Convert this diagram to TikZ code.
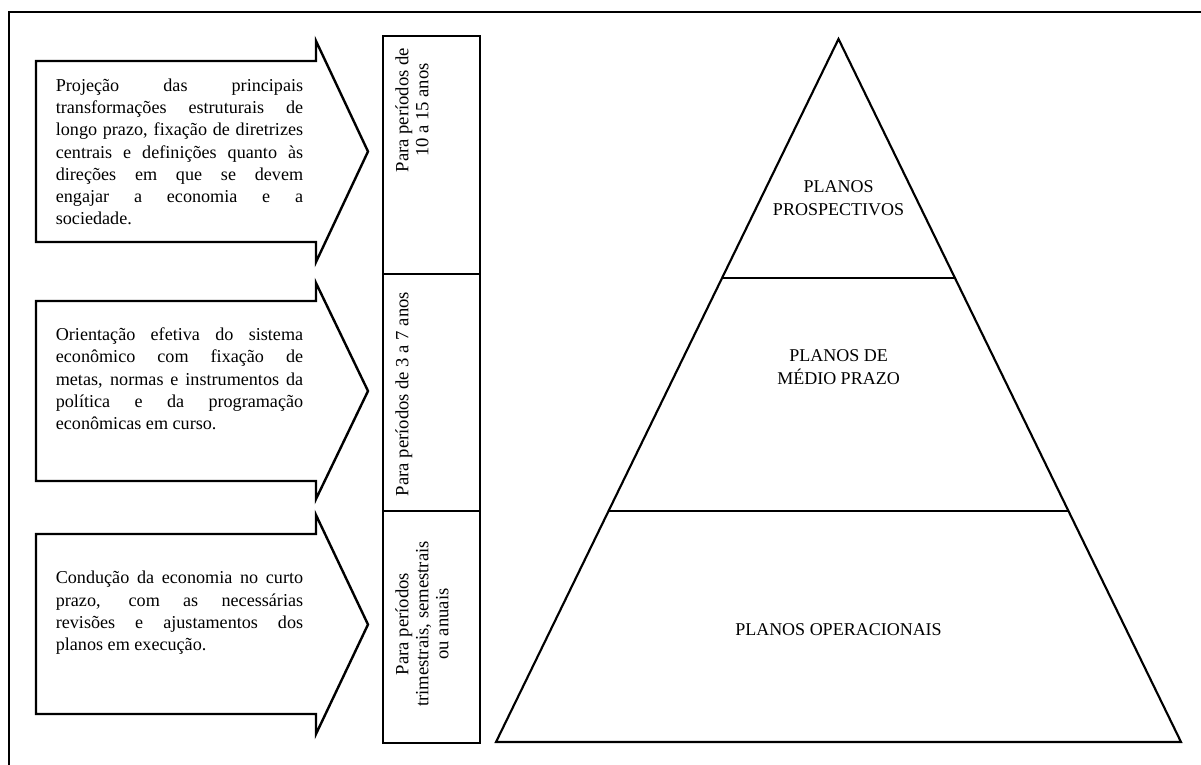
\documentclass[tikz,border=0pt]{standalone}
\usepackage{fontspec}
\setmainfont{Liberation Serif}
\hyphenpenalty=10000
\exhyphenpenalty=10000
\begin{document}
\begin{tikzpicture}[x=0.75pt,y=-0.75pt,
  frameline/.style={line width=1.8pt},
  arrowshape/.style={draw, line width=1.8pt, line join=miter},
  desc/.style={text width=185.5pt, align=justify, inner sep=0pt,
    font=\fontsize{13.6}{16.7}\selectfont},
  period/.style={rotate=90, align=center, inner sep=0pt, anchor=north,
    font=\fontsize{14}{15}\selectfont},
  cell/.style={draw, line width=1.6pt},
  pyr/.style={draw, line width=1.6pt, line join=miter},
  level/.style={align=center, inner sep=0pt,
    font=\fontsize{13.5}{17.2}\selectfont}
]
\clip (0,0) rectangle (1201,764);
\useasboundingbox (0,0) rectangle (1201,764);

% outer frame (cut by the page at right and bottom)
\draw[frameline] (9,800) -- (9,12) -- (1260,12);

% arrows
\draw[arrowshape] (36,61) -- (316,61) -- (316,41) -- (368,151.5) -- (316,262) -- (316,242) -- (36,242) -- cycle;
\draw[arrowshape] (36,301) -- (316,301) -- (316,283) -- (368,391) -- (316,499) -- (316,481) -- (36,481) -- cycle;
\draw[arrowshape] (36,534) -- (316,534) -- (316,515) -- (368,624.5) -- (316,734) -- (316,714) -- (36,714) -- cycle;

\node[desc] (t1) at (179.5,152) {Projeção das principais\linebreak
transformações estruturais de\linebreak
longo prazo, fixação de diretrizes\linebreak
centrais e definições quanto às\linebreak
direções em que se devem\linebreak
engajar a economia e a\linebreak
sociedade.};
\node[desc] (t2) at (179.5,379) {Orientação efetiva do sistema\linebreak
econômico com fixação de\linebreak
metas, normas e instrumentos da\linebreak
política e da programação\linebreak
econômicas em curso.};
\node[desc] (t3) at (179.5,613) {Condução da economia no curto\linebreak
prazo, com as necessárias\linebreak
revisões e ajustamentos dos\linebreak
planos em execução.};

% period column
\draw[cell] (383,36) rectangle (480,274);
\draw[cell] (383,274) rectangle (480,511);
\draw[cell] (383,511) rectangle (480,743);
\node[period] (p1) at (395,110) {Para períodos de\\10 a 15 anos};
\node[period] (p2) at (395,394) {Para períodos de 3 a 7 anos};
\node[period] (p3) at (395,624) {Para períodos\\trimestrais, semestrais\\ou anuais};

% pyramid
\coordinate (apex) at (838.5,39);
\coordinate (bl) at (496,742);
\coordinate (br) at (1181,742);
\draw[pyr] (apex) -- (br) -- (bl) -- cycle;
\draw[pyr] (721.5,278) -- (955.5,278);
\draw[pyr] (608.5,511) -- (1068.5,511);
\node[level] (l1) at (838.5,198.5) {PLANOS\\PROSPECTIVOS};
\node[level] (l2) at (838.5,367) {PLANOS DE\\MÉDIO PRAZO};
\node[level] (l3) at (838.5,630) {PLANOS OPERACIONAIS};
\end{tikzpicture}
\end{document}
